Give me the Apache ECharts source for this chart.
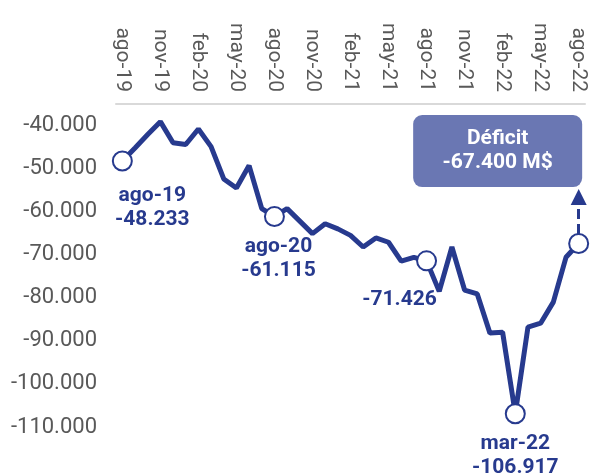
<!DOCTYPE html>
<html>
<head>
<meta charset="utf-8">
<script src="https://cdn.jsdelivr.net/npm/echarts@6/dist/echarts.min.js"></script>
<style>
html, body { margin: 0; padding: 0; background: #fff; }
#chart { width: 600px; height: 476px; }
</style>
</head>
<body>
<div id="chart"></div>
<script>
// months shown on the axis (spanish abbreviations)
var months = ['ago-19','sep-19','oct-19','nov-19','dic-19','ene-20','feb-20','mar-20','abr-20','may-20','jun-20','jul-20',
    'ago-20','sep-20','oct-20','nov-20','dic-20','ene-21','feb-21','mar-21','abr-21','may-21','jun-21','jul-21',
    'ago-21','sep-21','oct-21','nov-21','dic-21','ene-22','feb-22','mar-22','abr-22','may-22','jun-22','jul-22','ago-22'];

// balance, millions
var balance = [-48233,-45200,-42100,-39100,-44000,-44400,-40800,-44900,-52400,-54500,-49300,-59300,
    -61115,-59300,-62200,-65100,-62800,-64000,-65500,-68200,-66100,-67100,-71500,-70600,
    -71426,-78500,-68200,-78200,-79100,-88200,-88000,-106917,-86800,-85900,-81000,-70600,-67400];

// highlighted months and what their label shows
var marked = ['ago-19','ago-20','ago-21','mar-22','ago-22'];
var boxTitle = 'Déficit';
var boxUnit = 'M$';

// arrow from the last point up to the box
var arrowFrom = -65200;
var arrowTo = -56600;

var navy = '#273a8e';

function fmt(v){
    var s = String(Math.abs(v)).replace(/\B(?=(\d{3})+(?!\d))/g, '.');
    return (v < 0 ? '-' : '') + s;
}

var labelCfg = {
    'ago-19': { position: 'bottom', offset: [30, 7], formatter: function(p){ return p.name + '\n' + fmt(p.value); } },
    'ago-20': { position: 'bottom', offset: [4, 3], formatter: function(p){ return p.name + '\n' + fmt(p.value); } },
    'ago-21': { position: 'bottom', offset: [-27, 11], formatter: function(p){ return fmt(p.value); } },
    'mar-22': { position: 'bottom', offset: [0, 3], formatter: function(p){ return p.name + '\n' + fmt(p.value); } },
    'ago-22': {
        position: 'top', offset: [-81, -41],
        formatter: function(p){ return boxTitle + '\n' + fmt(p.value) + ' ' + boxUnit; },
        color: '#fff', backgroundColor: '#6a77b3', borderRadius: 9,
        width: 169, padding: [12, 0, 12, 0], align: 'center'
    }
};

var seriesData = balance.map(function(v, i){
    var name = months[i];
    if (marked.indexOf(name) < 0) {
        return { value: v, symbol: 'none' };
    }
    var lab = Object.assign({
        show: true,
        color: navy,
        fontFamily: 'Roboto',
        fontWeight: 'bold',
        fontSize: 21,
        lineHeight: 24
    }, labelCfg[name]);
    return { value: v, symbol: 'circle', symbolSize: 19, label: lab };
});

var chart = echarts.init(document.getElementById('chart'));
var option = {
    animation: false,
    grid: { left: 116, right: 15, top: 104, bottom: 49 },
    xAxis: {
        type: 'category',
        position: 'top',
        boundaryGap: true,
        data: months,
        axisLine: { lineStyle: { color: '#d9d9d9', width: 2 } },
        axisTick: { show: false },
        axisLabel: {
            rotate: 90, interval: 2, margin: 12,
            color: '#595959', fontFamily: 'Roboto', fontSize: 21
        }
    },
    yAxis: {
        type: 'value',
        min: -110000,
        max: -35000,
        interval: 10000,
        splitLine: { show: false },
        axisLine: { show: false },
        axisTick: { show: false },
        axisLabel: {
            showMaxLabel: false,
            margin: 19,
            color: '#595959', fontFamily: 'Roboto', fontSize: 22,
            formatter: fmt
        }
    },
    series: [
        {
            type: 'line',
            data: seriesData,
            showAllSymbol: true,
            lineStyle: { color: navy, width: 5 },
            itemStyle: { color: '#fff', borderColor: navy, borderWidth: 2 },
            emphasis: { disabled: true },
            z: 3,
            markLine: {
                silent: true,
                symbol: ['none', 'triangle'],
                symbolSize: 16,
                label: { show: false },
                lineStyle: { color: navy, width: 3, type: [10, 5], opacity: 1 },
                itemStyle: { color: navy },
                data: [[ { coord: ['ago-22', arrowFrom] }, { coord: ['ago-22', arrowTo] } ]]
            }
        }
    ]
};
chart.setOption(option);
</script>
</body>
</html>
